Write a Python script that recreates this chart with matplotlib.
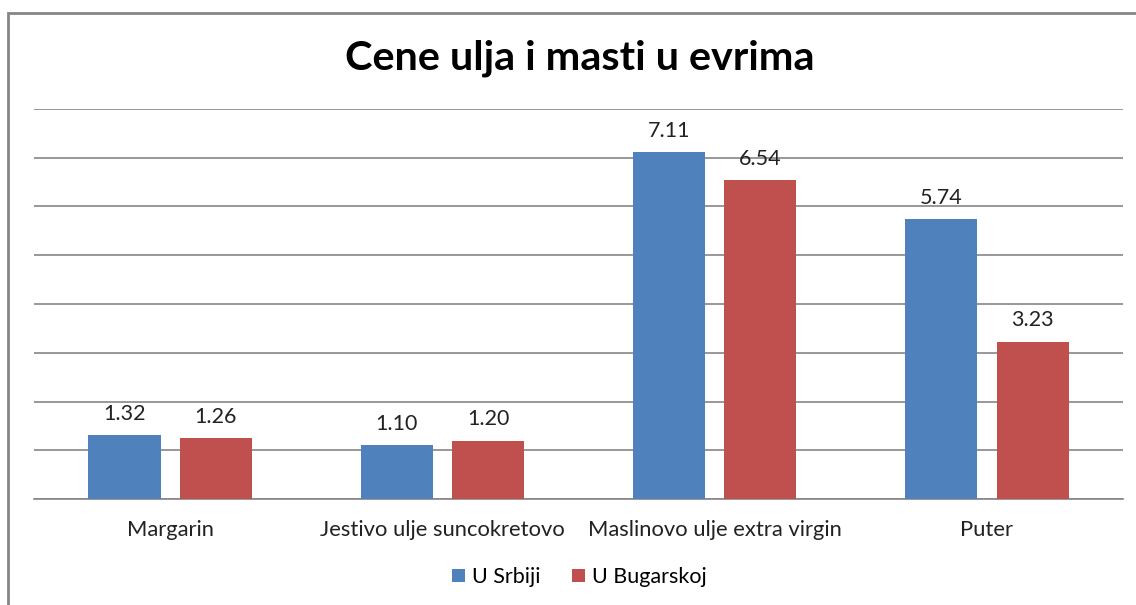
import numpy as np
import matplotlib.pyplot as plt
from matplotlib.patches import Rectangle

categories = ['Margarin', 'Jestivo ulje suncokretovo', 'Maslinovo ulje extra virgin', 'Puter']
srbija = [1.32, 1.10, 7.11, 5.74]
bugarska = [1.26, 1.20, 6.54, 3.23]
series_names = ['U Srbiji', 'U Bugarskoj']
title = 'Cene ulja i masti u evrima'

BLUE = '#4F81BD'
RED = '#C0504D'
GRID = '#868686'

plt.rcParams['font.family'] = ['Lato', 'DejaVu Sans']


def main():
    fig = plt.figure(figsize=(11.36, 6.05), dpi=100)
    ax = fig.add_axes([0.030, 0.175, 0.9586, 0.645])

    x = np.arange(len(categories))
    w = 0.265
    off = 0.168
    b1 = ax.bar(x - off, srbija, w, color=BLUE, label=series_names[0], zorder=3)
    b2 = ax.bar(x + off, bugarska, w, color=RED, label=series_names[1], zorder=3)
    for bars in (b1, b2):
        ax.bar_label(bars, labels=[f'{v:.2f}' for v in bars.datavalues],
                     padding=8, fontsize=15.5, color='#222222')

    ax.set_xlim(-0.5, len(categories) - 0.5)
    ax.set_ylim(0, 8)
    ax.set_yticks(np.arange(0, 9, 1))
    ax.yaxis.grid(True, color=GRID, linewidth=1.2, zorder=0)
    ax.tick_params(axis='y', length=0, labelleft=False)
    ax.tick_params(axis='x', length=0, pad=15, labelsize=15.8, labelcolor='#222222')
    ax.set_xticks(x)
    ax.set_xticklabels(categories)
    for s in ('top', 'right', 'left'):
        ax.spines[s].set_visible(False)
    ax.spines['bottom'].set_color(GRID)
    ax.spines['bottom'].set_linewidth(1.2)

    fig.text(0.51, 0.903, title, ha='center', va='center',
             fontsize=29.8, fontweight='bold', color='black')

    fig.legend(loc='center', bbox_to_anchor=(0.51, 0.046), ncol=2, frameon=False,
               fontsize=15.5, handlelength=0.6, handleheight=0.6,
               handletextpad=0.3, columnspacing=1.5)

    fig.patches.append(Rectangle((8 / 1136, -0.5), 2, 1.5 - 13 / 605,
                                 transform=fig.transFigure, fill=False,
                                 edgecolor=GRID, linewidth=2))

    fig.savefig('out.png', dpi=100)


if __name__ == "__main__":
    main()
